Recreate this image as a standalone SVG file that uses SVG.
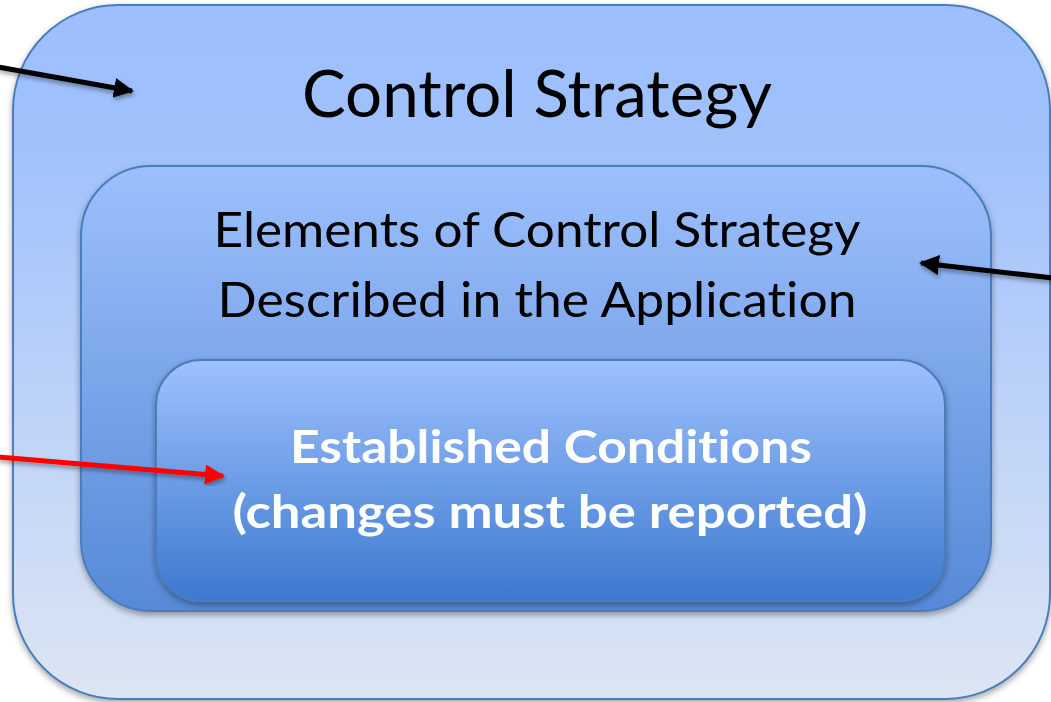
<svg xmlns="http://www.w3.org/2000/svg" width="1051" height="702" viewBox="0 0 1051 702">
  <defs>
    <linearGradient id="gOuter" x1="0" y1="0" x2="0" y2="1">
      <stop offset="0" stop-color="#9cbffd"/>
      <stop offset="0.2" stop-color="#a0c1fc"/>
      <stop offset="1" stop-color="#dce5f3"/>
    </linearGradient>
    <linearGradient id="gMiddle" x1="0" y1="0" x2="0" y2="1">
      <stop offset="0" stop-color="#9dc0fd"/>
      <stop offset="1" stop-color="#5689d6"/>
    </linearGradient>
    <linearGradient id="gInner" x1="0" y1="0" x2="0" y2="1">
      <stop offset="0" stop-color="#9ec1fd"/>
      <stop offset="1" stop-color="#3c79cf"/>
    </linearGradient>
    <filter id="boxShadow" x="-5%" y="-5%" width="110%" height="115%">
      <feDropShadow dx="0" dy="3" stdDeviation="3" flood-color="#000" flood-opacity="0.35"/>
    </filter>
    <filter id="arrowShadow" x="-10%" y="-50%" width="120%" height="200%">
      <feDropShadow dx="1" dy="3" stdDeviation="2" flood-color="#000" flood-opacity="0.35"/>
    </filter>
    <marker id="headBlack" viewBox="0 0 10 10" refX="9" refY="5" markerWidth="4" markerHeight="4" orient="auto" markerUnits="strokeWidth">
      <path d="M0,0 L10,5 L0,10 z" fill="#000"/>
    </marker>
    <marker id="headRed" viewBox="0 0 10 10" refX="9" refY="5" markerWidth="4" markerHeight="4" orient="auto" markerUnits="strokeWidth">
      <path d="M0,0 L10,5 L0,10 z" fill="#ff0000"/>
    </marker>
  </defs>
  <style>
    .box { stroke: #4a7ebb; stroke-width: 2; }
    .label { font-family: Lato, "Open Sans", "Liberation Sans", sans-serif; text-anchor: middle; font-variant-ligatures: none; font-feature-settings: "liga" 0, "clig" 0, "dlig" 0; }
    .dark { fill: #000; }
    .light { fill: #fff; font-weight: bold; }
    .link { fill: none; stroke-width: 5; stroke-linecap: butt; }
  </style>

  <g id="control-strategy" filter="url(#boxShadow)">
    <rect class="box" x="13" y="5" width="1037" height="694" rx="105" ry="105" fill="url(#gOuter)"/>
    <text class="label dark" x="537" y="117" font-size="65" textLength="470" lengthAdjust="spacingAndGlyphs">Control Strategy</text>
  </g>

  <g id="described-elements" filter="url(#boxShadow)">
    <rect class="box" x="81" y="166" width="910" height="445" rx="70" ry="70" fill="url(#gMiddle)"/>
    <text class="label dark" x="537" y="247" font-size="49" textLength="647" lengthAdjust="spacingAndGlyphs">Elements of Control Strategy</text>
    <text class="label dark" x="537" y="317" font-size="49" textLength="639" lengthAdjust="spacingAndGlyphs">Described in the Application</text>
  </g>

  <g id="established-conditions" filter="url(#boxShadow)">
    <rect class="box" x="156" y="360" width="789" height="241" rx="45" ry="45" fill="url(#gInner)"/>
    <text class="label light" x="551" y="463" font-size="46" textLength="522" lengthAdjust="spacingAndGlyphs">Established Conditions</text>
    <text class="label light" x="550" y="528" font-size="46" textLength="635" lengthAdjust="spacingAndGlyphs">(changes must be reported)</text>
  </g>

  <g id="connectors">
    <line class="link" x1="-2" y1="67" x2="132" y2="91" stroke="#000" marker-end="url(#headBlack)" filter="url(#arrowShadow)"/>
    <line class="link" x1="1053" y1="278" x2="921" y2="263" stroke="#000" marker-end="url(#headBlack)" filter="url(#arrowShadow)"/>
    <line class="link" x1="-2" y1="457" x2="223" y2="476" stroke="#ff0000" marker-end="url(#headRed)" filter="url(#arrowShadow)"/>
  </g>
</svg>
